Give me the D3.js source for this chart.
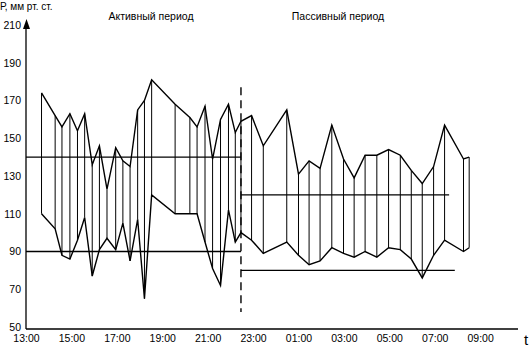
<!DOCTYPE html>
<html>
<head>
<meta charset="utf-8">
<script src="https://cdn.jsdelivr.net/npm/d3@7"></script>
<style>
  body { margin: 0; background: #fff; }
  svg { display: block; font-family: "Liberation Sans", Arial, sans-serif; }
</style>
</head>
<body>
<svg width="531" height="351"></svg>
<script>
// measurement times (active period then passive period)
const times = [
  "13:41","14:17","14:35","14:56","15:16","15:35","15:55","16:14","16:34","16:57",
  "17:16","17:35","17:55","18:13","18:32","19:34","20:13","20:32","20:53","21:13",
  "21:34","21:55","22:13","22:28",
  "22:56","23:27","00:29","01:00","01:28","01:57","02:28","02:59","03:27","03:56",
  "04:27","04:58","05:29","05:58","06:27","06:57","07:26","08:16","08:31"
];
const systolic = [
  174,162,156,163,154,163,136,146,123,145,
  138,135,165,170,181,168,161,156,167,139,
  160,168,153,159,
  162,146,165,131,138,134,157,139,129,141,
  141,144,141,133,126,135,157,139,140
];
const diastolic = [
  110,102,88,86,96,108,77,91,97,91,
  105,85,107,65,120,110,110,110,95,81,
  72,112,95,100,
  96,89,95,88,83,85,92,89,87,90,
  87,92,91,86,76,88,96,90,92
];
const xTickLabels = ["13:00","15:00","17:00","19:00","21:00","23:00","01:00","03:00","05:00","07:00","09:00"];
const yTicks = [50,70,90,110,130,150,170,190,210];

// norm lines: [value, from, to]
const normLines = [
  [140, "13:00", "22:28"],
  [90, "13:00", "22:28"],
  [120, "22:28", "07:38"],
  [80, "22:28", "07:53"]
];
const periodSplit = "22:28";

const svg = d3.select("svg");

// times after midnight belong to the next day
const parseT = s => {
  const [h, m] = s.split(":").map(Number);
  return new Date(2000, 0, h < 13 ? 2 : 1, h, m);
};

const x = d3.scaleTime()
  .domain([new Date(2000, 0, 1, 13, 0), new Date(2000, 0, 2, 10, 40)])
  .range([26, 518]);
const y = d3.scaleLinear().domain([50, 210]).range([327, 25]);

const data = times.map((t, i) => ({ t: parseT(t), sys: systolic[i], dia: diastolic[i] }));

// axes
svg.append("line")
  .attr("x1", x.range()[0]).attr("x2", x.range()[1])
  .attr("y1", y(50) + 2).attr("y2", y(50) + 2)
  .attr("stroke", "#000").attr("stroke-width", 1.3);

svg.append("line")
  .attr("x1", 26).attr("x2", 26)
  .attr("y1", y(50) + 2).attr("y2", 26)
  .attr("stroke", "#000").attr("stroke-width", 1.3);
svg.append("path")
  .attr("d", "M26.5,19 L23,29 L30,29 Z")
  .attr("fill", "#000");

const xAxis = svg.append("g")
  .attr("transform", `translate(0,${y(50) + 2})`)
  .call(d3.axisBottom(x).tickValues(xTickLabels.map(parseT)).tickSize(0).tickPadding(6)
    .tickFormat(d3.timeFormat("%H:%M")));
xAxis.select(".domain").remove();
xAxis.selectAll("text").attr("fill", "#000").style("font-size", "10.5px")
  .style("font-family", "Liberation Sans, Arial, sans-serif");

const yAxis = svg.append("g")
  .attr("transform", "translate(26,0)")
  .call(d3.axisLeft(y).tickValues(yTicks).tickSize(0).tickPadding(5));
yAxis.select(".domain").remove();
yAxis.selectAll("text").attr("fill", "#000").style("font-size", "10.5px")
  .style("font-family", "Liberation Sans, Arial, sans-serif");

svg.append("text")
  .attr("x", 0).attr("y", 10)
  .style("font-size", "10px")
  .text("Р, мм рт. ст.");

svg.append("text")
  .attr("x", 524).attr("y", 345)
  .style("font-size", "15px")
  .text("t");

svg.append("text")
  .attr("x", 151).attr("y", 20)
  .attr("text-anchor", "middle")
  .style("font-size", "10.5px")
  .text("Активный период");
svg.append("text")
  .attr("x", 338).attr("y", 20)
  .attr("text-anchor", "middle")
  .style("font-size", "10.5px")
  .text("Пассивный период");

// vertical bars systolic-diastolic
svg.append("g")
  .selectAll("line")
  .data(data)
  .join("line")
  .attr("x1", d => x(d.t)).attr("x2", d => x(d.t))
  .attr("y1", d => y(d.sys)).attr("y2", d => y(d.dia))
  .attr("stroke", "#000").attr("stroke-width", 1);

const lineSys = d3.line().x(d => x(d.t)).y(d => y(d.sys));
const lineDia = d3.line().x(d => x(d.t)).y(d => y(d.dia));

svg.append("path").datum(data).attr("d", lineSys)
  .attr("fill", "none").attr("stroke", "#000").attr("stroke-width", 1.4)
  .attr("stroke-linejoin", "miter");
svg.append("path").datum(data).attr("d", lineDia)
  .attr("fill", "none").attr("stroke", "#000").attr("stroke-width", 1.4)
  .attr("stroke-linejoin", "miter");

// norm lines
svg.append("g")
  .selectAll("line")
  .data(normLines)
  .join("line")
  .attr("x1", d => x(parseT(d[1]))).attr("x2", d => x(parseT(d[2])))
  .attr("y1", d => y(d[0])).attr("y2", d => y(d[0]))
  .attr("stroke", "#000").attr("stroke-width", 1.4);

// period separator
svg.append("line")
  .attr("x1", x(parseT(periodSplit))).attr("x2", x(parseT(periodSplit)))
  .attr("y1", y(177)).attr("y2", y(58))
  .attr("stroke", "#000").attr("stroke-width", 1.4)
  .attr("stroke-dasharray", "8,5");
</script>
</body>
</html>
